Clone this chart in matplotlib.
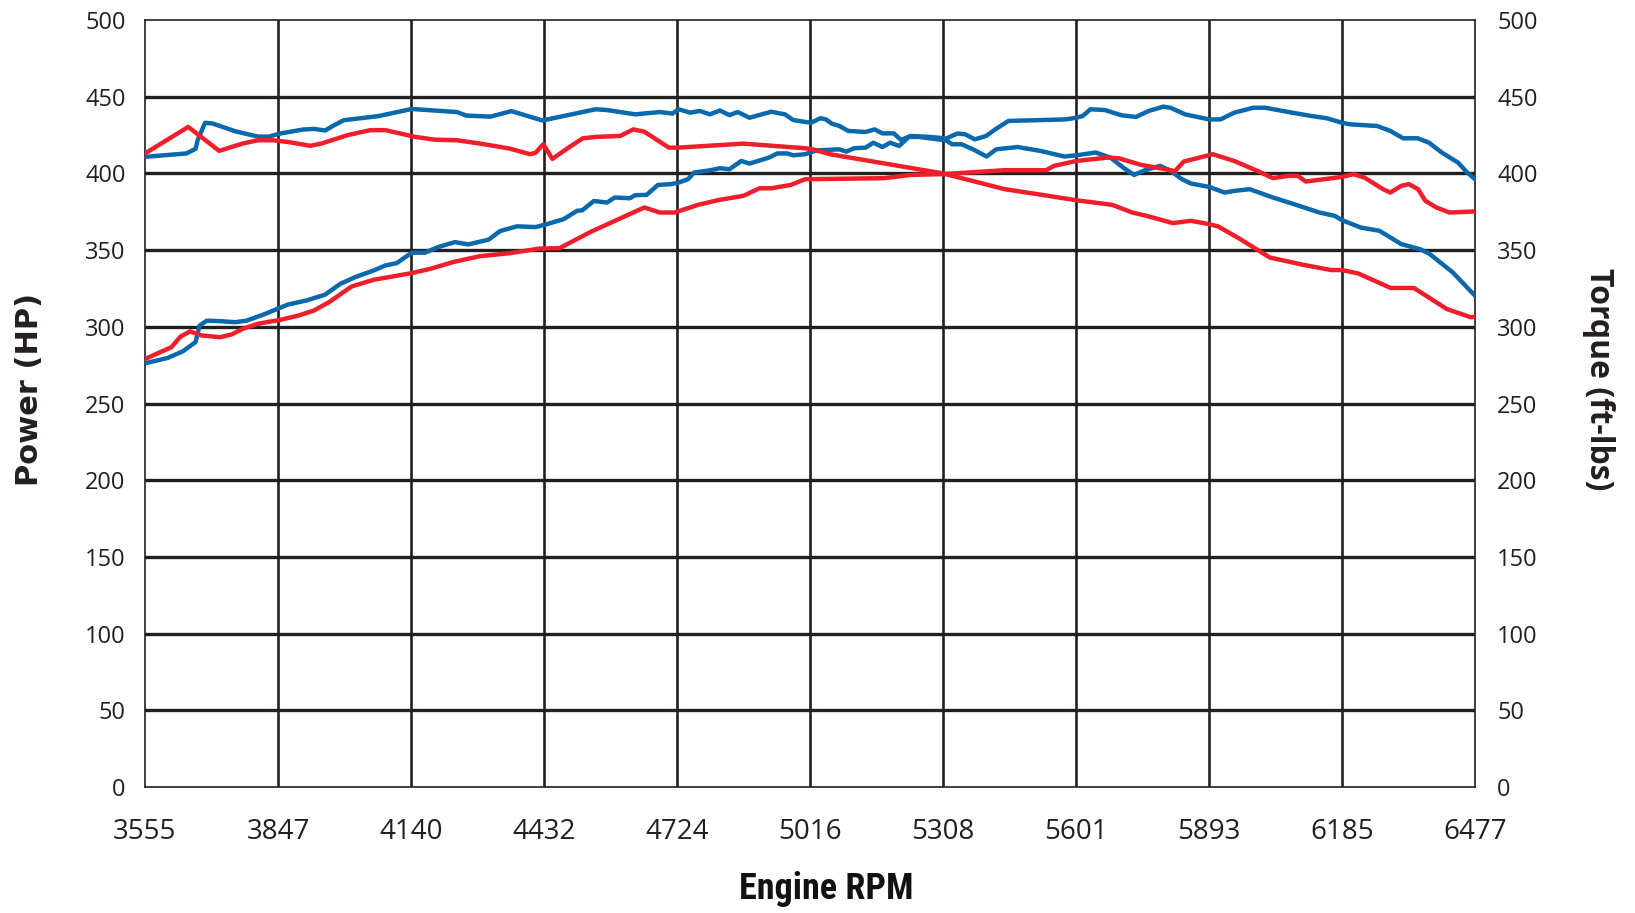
import numpy as np
import matplotlib
matplotlib.use("Agg")
import matplotlib.pyplot as plt
from matplotlib import font_manager

# x axis ticks (engine rpm)
rpm_ticks = [3555 + i * 292.2 for i in range(11)]
rpm_labels = ['3555', '3847', '4140', '4432', '4724', '5016',
              '5308', '5601', '5893', '6185', '6477']
y_ticks = list(range(0, 501, 50))

# blue run - torque
blue_tq_rpm = [3555, 3646, 3666, 3671, 3687, 3704, 3753, 3803, 3827, 3852, 3902, 3926, 3951,
               3968, 3992, 4067, 4141, 4240, 4261, 4314, 4360, 4428, 4545, 4570, 4632, 4686,
               4714, 4727, 4753, 4774, 4796, 4818, 4839, 4857, 4883, 4931, 4961, 4979, 5018,
               5039, 5051, 5064, 5080, 5100, 5138, 5158, 5175, 5200, 5216, 5237, 5278, 5308,
               5328, 5349, 5374, 5404, 5425, 5472, 5523, 5575, 5601, 5644, 5676, 5704, 5728,
               5752, 5785, 5809, 5833, 5853, 5893, 5927, 5948, 5982, 6033, 6084, 6135, 6169,
               6185, 6226, 6267, 6315, 6356, 6376, 6428, 6477]
blue_tq = [410.8, 413, 416, 422, 433, 432.5, 427.5, 424, 424, 426, 428.6, 429, 428,
           431, 434.7, 437.3, 442, 440, 437.7, 437, 440.6, 434.5, 441.8, 441.3, 438.5, 440,
           439, 441.8, 439.6, 440.7, 438.5, 441, 438, 440, 436.3, 440.2, 438.5, 434.8, 433,
           436, 435.2, 432.4, 431, 427.7, 427, 428.7, 426.1, 426.1, 421.8, 424.4, 423.8, 423,
           419, 419, 415.7, 411, 415.7, 417.2, 414.6, 411, 411.8, 413.6, 410.3, 403.8, 399,
           402.1, 404.9, 401.6, 396.2, 393.4, 391.2, 387.5, 388.6, 389.7, 384.3, 379.5, 374.5, 372.3,
           369.5, 364.7, 362.6, 353.9, 350.6, 347.8, 335.5, 320.3]

# blue run - power
blue_hp_rpm = [3555, 3605, 3638, 3666, 3675, 3691, 3720, 3753, 3778, 3819, 3869, 3910, 3951,
               3984, 4017, 4058, 4083, 4108, 4141, 4170, 4199, 4236, 4265, 4310, 4335, 4372,
               4413, 4438, 4475, 4504, 4516, 4541, 4570, 4587, 4620, 4632, 4657, 4682, 4710,
               4727, 4748, 4761, 4796, 4818, 4839, 4865, 4883, 4926, 4944, 4966, 4979, 5005,
               5031, 5080, 5096, 5113, 5138, 5155, 5175, 5192, 5212, 5233, 5254, 5308, 5340,
               5357, 5378, 5403, 5423, 5452, 5577, 5601, 5615, 5632, 5664, 5700, 5732, 5760,
               5792, 5808, 5840, 5893, 5918, 5948, 5990, 6016, 6075, 6118, 6152, 6185, 6202,
               6262, 6291, 6319, 6351, 6376, 6404, 6440, 6460, 6477]
blue_hp = [276.2, 279.7, 284, 290, 300.8, 304, 303.7, 303, 304, 308.4, 314.5, 317.2, 321,
           328, 332.4, 336.8, 340, 341.5, 348.3, 348.3, 352, 355.2, 353.7, 356.8, 362.4, 365.5,
           365, 366.9, 370.2, 375.6, 376, 382, 381, 384.3, 383.8, 385.8, 386, 392.5, 393,
           394, 396.2, 400.5, 402, 403.4, 402.7, 408.1, 406.4, 410.3, 413, 413, 411.8, 412.5,
           415, 415.7, 414.2, 416.4, 416.8, 420, 417.2, 420, 417.9, 423.8, 423.8, 421.8, 426,
           425.5, 422.2, 424.4, 428.7, 434.2, 435.2, 436.3, 437.4, 441.8, 441.3, 437.9, 436.8, 440.7,
           443.5, 442.8, 438.5, 435.2, 435.2, 439.6, 442.8, 442.8, 439.6, 437.4, 435.9, 433, 432,
           430.9, 427.7, 422.9, 422.9, 420, 413.6, 407, 400.5, 396.2]

# red run - torque
red_tq_rpm = [3555, 3650, 3718, 3770, 3803, 3836, 3869, 3918, 3943, 4001, 4050, 4083, 4149,
              4191, 4240, 4290, 4356, 4401, 4413, 4430, 4450, 4488, 4517, 4545, 4599, 4628,
              4652, 4706, 4727, 4870, 5005, 5022, 5060, 5308, 5444, 5526, 5601, 5680, 5724,
              5756, 5813, 5853, 5893, 5913, 5961, 6026, 6098, 6161, 6185, 6220, 6292, 6343,
              6415, 6468, 6477]
red_tq = [413, 430.3, 414.7, 419.5, 421.6, 421.6, 420.5, 418, 419.5, 425, 428.2, 428.2, 423.8,
          422, 421.6, 419.5, 416.2, 412.5, 413.4, 419, 409.5, 417.3, 422.9, 423.8, 424.4, 428.7,
          427.2, 416.8, 416.8, 419.4, 416.4, 415.7, 412.5, 400, 389.7, 386, 382.5, 379.5, 374.5,
          372.3, 367.6, 369.1, 366.9, 365.4, 357.2, 345.2, 340.5, 337, 337, 334.8, 325.3, 325.3,
          311.6, 306.2, 306.6]

# red run - power
red_hp_rpm = [3555, 3613, 3633, 3654, 3679, 3720, 3745, 3770, 3803, 3852, 3893, 3926, 3959,
              4009, 4058, 4091, 4141, 4182, 4232, 4290, 4356, 4422, 4466, 4535, 4652, 4686,
              4719, 4770, 4813, 4870, 4905, 4931, 4974, 5005, 5179, 5237, 5308, 5444, 5535,
              5552, 5601, 5669, 5694, 5744, 5809, 5817, 5837, 5901, 5948, 5999, 6033, 6067,
              6088, 6105, 6185, 6210, 6234, 6275, 6291, 6315, 6332, 6352, 6368, 6392, 6421, 6477]
red_hp = [279, 286.7, 293.6, 297, 294.4, 293.2, 295, 298.7, 302, 304.5, 307.4, 310.6, 316,
          326.3, 330.7, 332.4, 335, 337.8, 342.2, 346, 348, 351, 351.3, 362, 377.8, 374.5,
          374.5, 379.5, 382.5, 385.4, 390.3, 390.3, 392.5, 396.2, 396.9, 399, 399.5, 402.1, 402.1,
          404.9, 408.1, 410.3, 409.9, 405.5, 402.1, 401.2, 407.7, 412.5, 408.1, 401.6, 396.9, 398.4,
          398.4, 394.7, 397.7, 399.5, 397.3, 389.7, 387.5, 391.9, 393, 389.7, 382.1, 377.8, 374.5, 375.2]

BLUE = '#0a68ad'
RED = '#ee1f2a'
GRID = '#231f20'

fonts = font_manager.fontManager.ttflist
names = set(f.name for f in fonts)
tick_font = 'Open Sans' if 'Open Sans' in names else 'DejaVu Sans'

# condensed bold font for the x title, whatever is installed
title_kw = dict(family='Liberation Sans', fontsize=23)
for cand in ['Roboto Condensed', 'Liberation Sans Narrow', 'Open Sans Condensed']:
    if cand in names:
        title_kw = dict(family=cand, fontsize=26)
        break
else:
    if any(f.name == 'DejaVu Sans' and f.stretch == 'condensed' and f.weight in (700, 'bold')
           for f in fonts):
        title_kw = dict(family='DejaVu Sans', fontstretch='condensed', fontsize=24)

fig = plt.figure(figsize=(16.35, 9.13), dpi=100)
ax = fig.add_axes([145 / 1635, 1 - 787 / 913, 1330 / 1635, 767 / 913])

ax.set_xlim(3555, 6477)
ax.set_ylim(0, 500)

# grid
for y in y_ticks[1:-1]:
    ax.axhline(y, color=GRID, lw=2.4, zorder=1)
for x in rpm_ticks[1:-1]:
    ax.axvline(x, color=GRID, lw=1.9, zorder=1)

ax.plot(blue_hp_rpm, blue_hp, color=BLUE, lw=3.2, zorder=3, solid_joinstyle='round')
ax.plot(blue_tq_rpm, blue_tq, color=BLUE, lw=3.2, zorder=3, solid_joinstyle='round')
ax.plot(red_hp_rpm, red_hp, color=RED, lw=3.2, zorder=4, solid_joinstyle='round')
ax.plot(red_tq_rpm, red_tq, color=RED, lw=3.2, zorder=4, solid_joinstyle='round')

for s in ax.spines.values():
    s.set_color(GRID)
    s.set_linewidth(1.2)

ax.set_xticks(rpm_ticks)
ax.set_xticklabels(rpm_labels, fontsize=20, family=tick_font, color=GRID)
ax.set_yticks(y_ticks)
ax.set_yticklabels([str(v) for v in y_ticks], fontsize=17, family=tick_font, color=GRID)
ax.tick_params(axis='x', length=0, pad=22)
ax.tick_params(axis='y', length=0, pad=14)

ax2 = ax.twinx()
ax2.set_ylim(0, 500)
ax2.set_yticks(y_ticks)
ax2.set_yticklabels([str(v) for v in y_ticks], fontsize=17, family=tick_font, color=GRID)
ax2.tick_params(axis='y', length=0, pad=16)
for s in ax2.spines.values():
    s.set_visible(False)

fig.text(29 / 1635, 1 - 389 / 913, 'Power (HP)', rotation=90, ha='center', va='center',
         fontsize=22, fontweight='bold', family='DejaVu Sans', color=GRID)
fig.text(1598 / 1635, 1 - 379 / 913, 'Torque (ft-lbs)', rotation=270, ha='center', va='center',
         fontsize=23, fontweight='bold', family=tick_font, color=GRID)
fig.text(826 / 1635, 1 - 889 / 913, 'Engine RPM', ha='center', va='center',
         fontweight='bold', color='#111111', **title_kw)

fig.savefig('out.png', dpi=100, facecolor='white')
